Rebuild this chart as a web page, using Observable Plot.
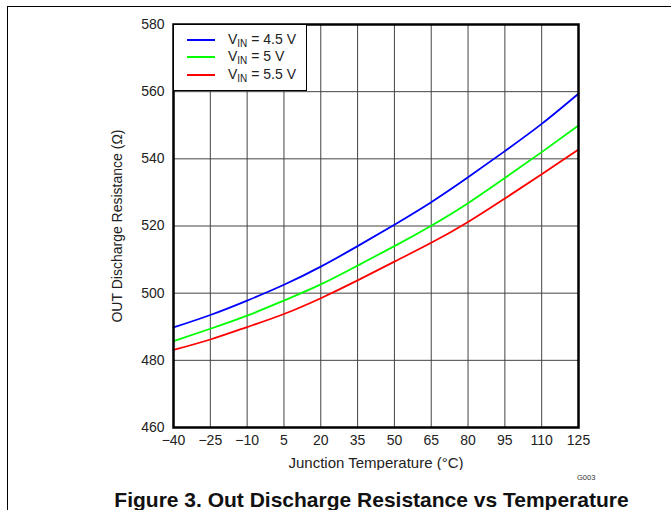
<!DOCTYPE html>
<html>
<head>
<meta charset="utf-8">
<script src="https://cdn.jsdelivr.net/npm/d3@7"></script>
<script src="https://cdn.jsdelivr.net/npm/@observablehq/plot@0.6"></script>
<style>
  html, body { margin: 0; padding: 0; background: #fff; }
  body { width: 671px; height: 510px; position: relative; overflow: hidden; font-family: "Liberation Sans", Arial, sans-serif; }
  #frame { position: absolute; left: 7px; top: 6px; width: 680px; height: 520px; border-left: 1.5px solid #000; border-top: 1.5px solid #000; }
  #chart { position: absolute; left: 0; top: 0; }
  #legend { position: absolute; left: 173px; top: 24px; width: 134px; height: 67px; background: #fff; border: 1.5px solid #000; box-sizing: border-box; font-size: 14px; color: #222; }
  .row { position: absolute; left: 13px; height: 16px; display: flex; align-items: center; }
  .sw { width: 28px; height: 2px; margin-right: 13px; }
  sub { font-size: 10px; vertical-align: -3px; }
  #g003 { position: absolute; left: 577px; top: 473px; font-size: 7.5px; color: #333; }
  #caption { position: absolute; left: 0; width: 743px; top: 489px; line-height: 21.5px; text-align: center; font-weight: bold; font-size: 21px; color: #111; white-space: nowrap; }
</style>
</head>
<body>
<div id="frame"></div>
<div id="chart"></div>
<div id="legend"></div>
<div id="g003">G003</div>
<div id="caption">Figure 3. Out Discharge Resistance vs Temperature</div>
<script>
const temps = [-40, -25, -10, 5, 20, 35, 50, 65, 80, 95, 110, 125];
const vin45 = [489.8, 493.5, 497.8, 502.5, 507.9, 514.0, 520.4, 527.1, 534.5, 542.3, 550.4, 559.4];
const vin50 = [485.7, 489.4, 493.3, 497.8, 502.6, 508.2, 514.0, 520.1, 526.8, 534.3, 542.0, 549.9];
const vin55 = [483.1, 486.2, 489.9, 493.8, 498.5, 503.8, 509.4, 515.0, 521.2, 528.2, 535.4, 542.8];
const seriesNames = ["4.5", "5", "5.5"];
const seriesColors = ["#0000ff", "#00ff00", "#ff0000"];
const xTicks = [-40, -25, -10, 5, 20, 35, 50, 65, 80, 95, 110, 125];
const yTicks = [460, 480, 500, 520, 540, 560, 580];

const allSeries = [vin45, vin50, vin55];
const data = [];
allSeries.forEach((vals, i) => vals.forEach((v, j) => data.push({t: temps[j], r: v, s: seriesNames[i]})));

const chart = Plot.plot({
  width: 671,
  height: 470,
  marginLeft: 173,
  marginRight: 93,
  marginTop: 24,
  marginBottom: 43,
  style: {fontFamily: "'Liberation Sans', Arial, sans-serif", fontSize: "14px", color: "#222", background: "transparent"},
  x: {domain: [-40, 125]},
  y: {domain: [460, 580]},
  color: {domain: seriesNames, range: seriesColors},
  marks: [
    Plot.gridX(xTicks, {stroke: "#444", strokeOpacity: 1, strokeWidth: 1}),
    Plot.gridY(yTicks, {stroke: "#444", strokeOpacity: 1, strokeWidth: 1}),
    Plot.axisX(xTicks, {tickSize: 0, tickPadding: 8, fontSize: 14, label: null}),
    Plot.axisX([], {tickSize: 0, fontSize: 15, label: "Junction Temperature (°C)", labelAnchor: "center", labelArrow: "none", labelOffset: 40}),
    Plot.axisY(yTicks, {tickSize: 0, tickPadding: 9, fontSize: 14, label: "OUT Discharge Resistance (Ω)", labelAnchor: "center", labelArrow: "none", labelOffset: 61}),
    Plot.line(data, {x: "t", y: "r", z: "s", stroke: "s", strokeWidth: 1.8, curve: "natural"}),
    Plot.frame({stroke: "#000", strokeWidth: 2.5})
  ]
});
document.getElementById("chart").appendChild(chart);

const legend = document.getElementById("legend");
seriesNames.forEach((n, i) => {
  const row = document.createElement("div");
  row.className = "row";
  row.style.top = (7 + i * 17.3) + "px";
  row.innerHTML = `<span class="sw" style="background:${seriesColors[i]}"></span><span>V<sub>IN</sub> = ${n} V</span>`;
  legend.appendChild(row);
});
</script>
</body>
</html>
